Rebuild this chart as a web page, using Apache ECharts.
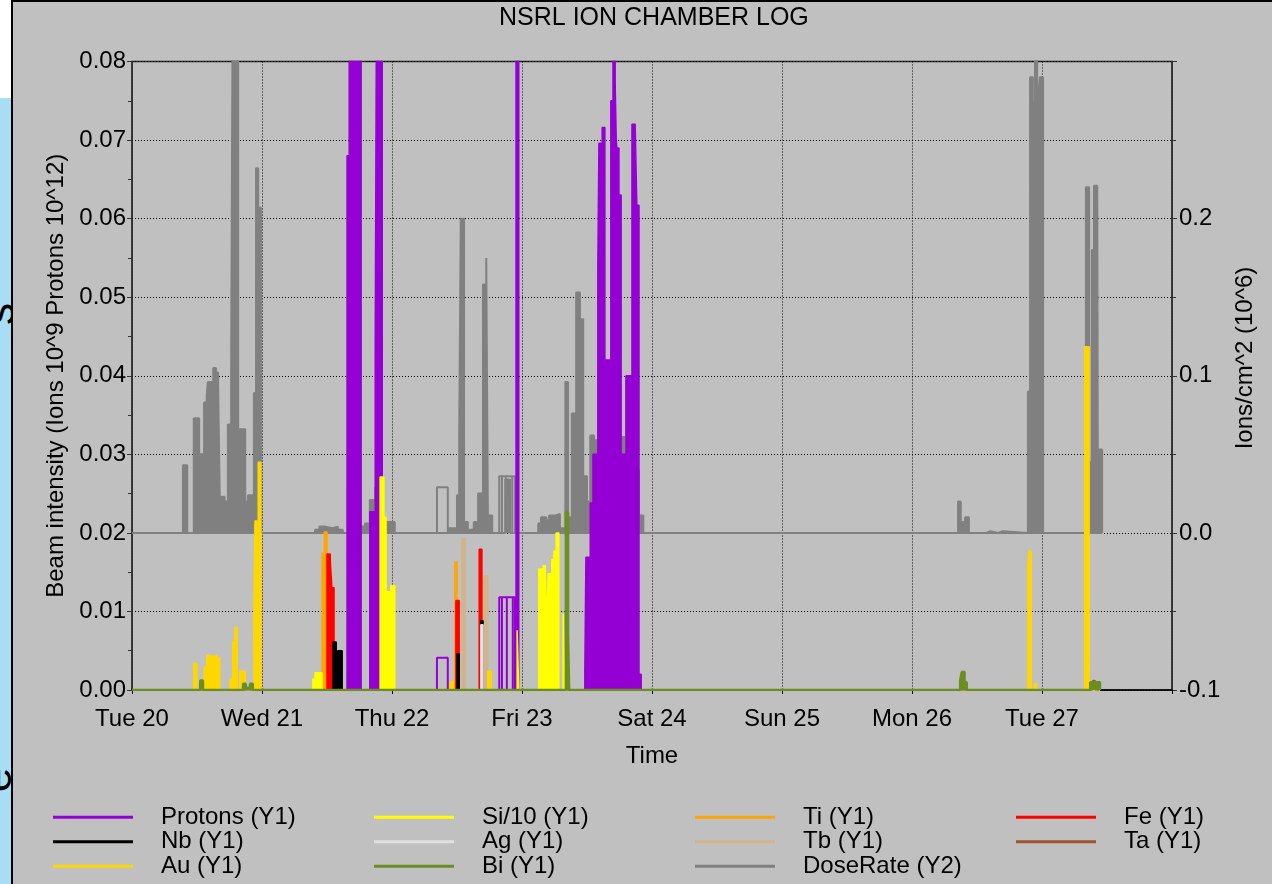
<!DOCTYPE html>
<html><head><meta charset="utf-8">
<script src="https://cdn.jsdelivr.net/npm/echarts@6/dist/echarts.min.js"></script>
<style>
html,body{margin:0;padding:0;background:#c0c0c0;overflow:hidden;}
#chart{position:absolute;left:0;top:0;width:1272px;height:884px;}
.ov{position:absolute;pointer-events:none;}
#strip{position:absolute;left:0;top:98px;width:11px;height:786px;background:#A9DDF3;overflow:hidden;pointer-events:none;}
#strip span{position:absolute;font-family:"Liberation Sans",Arial,sans-serif;color:#000;transform:rotate(-90deg);transform-origin:center center;line-height:1;}
</style></head><body>
<div id="chart"></div>
<div class="ov" style="left:0;top:0;width:11px;height:98px;background:#fff"></div>
<div id="strip"><span style="left:-12px;top:194px;font-size:44px;">s</span><span style="left:-16px;top:660px;font-size:44px;">e</span></div>
<div class="ov" style="left:11px;top:0;width:2px;height:884px;background:#000"></div>
<div class="ov" style="left:11px;top:0;width:1261px;height:2px;background:#000"></div>
<script>
// x values are hours since Tue 20 00:00
const dayLabels = ['Tue 20','Wed 21','Thu 22','Fri 23','Sat 24','Sun 25','Mon 26','Tue 27'];

// DoseRate (Y2) – filled parts and outline-only parts
const doseFill = [[0,0],
 [9.4,0.043],[10.2,0],
 [11.4,0.073],[12.4,0.05],[13.3,0.083],[13.8,0.088],[14.0,0.096],[15.0,0.105],[15.5,0.102],[15.9,0.095],[16.2,0.023],[17.1,0.02],[17.7,0.069],[18.3,0.105],[18.6,0.35],[19.6,0.03],[19.8,0.066],[20.9,0.02],[21.4,0.024],[22.5,0.089],[22.9,0.232],[23.3,0.207],[23.8,0],
 [33.8,0.002],[34.6,0.004],[35.5,0.003],[37.0,0.004],[38.0,0.002],[38.9,0],
 [40.6,0.03],[41.0,0.004],[42.3,0.004],[43.0,0.006],[43.9,0.021],[44.9,0.029],[45.3,0.005],[46.5,0.007],[48.5,0],
 [58.5,0.003],[60.0,0.024],[60.4,0.061],[60.7,0.2],[61.3,0.007],[62.0,0.002],[63.1,0.007],[63.9,0.025],[64.8,0.158],[65.4,0.175],[65.7,0.011],[66.5,0],
 [68.9,0.034],[69.8,0],
 [75.0,0.006],[75.5,0.01],[76.5,0.008],[77.0,0.011],[78.0,0.012],[79.0,0.003],[80.0,0.096],[80.5,0.01],[81.2,0.076],[82.0,0.153],[82.7,0.136],[83.3,0.036],[84.0,0.02],[84.6,0.062],[85.3,0.059],[86.0,0.03],[87.3,0.046],[88.4,0.03],[90.3,0.061],[91.2,0.097],[92.3,0.04],[93.6,0.011],[94.4,0],
 [152.5,0.020],[153.0,0.007],[153.8,0.010],[154.5,0],[157.7,0.001],[158.4,0],[159.9,0.001],[160.8,0],
 [165.4,0.09],[165.8,0.29],[166.3,0.274],[166.7,0.35],[167.1,0.244],[167.3,0.277],[167.6,0.29],[168.2,0],
 [176.1,0.22],[176.7,0.045],[177.2,0.18],[177.6,0.221],[178.2,0.218],[178.3,0.053],[179.1,0]];
const doseOutline = [[0,0],[56.3,0.029],[58.3,0],[67.8,0.036],[68.3,0],[68.3,0.036],[69.0,0],[69.0,0.036],[70.2,0],[70.2,0.036],[70.7,0],[179.1,0]];

// Protons (Y1)
const protonsFill = [[0,0],[39.7,0.068],[40.1,0.1],[40.6,0],[40.8,0.1],[42.3,0],[43.9,0.0227],[44.9,0.0434],[45.2,0.1],[46.2,0],
 [70.9,0.1],[71.4,0],
 [83.6,0.0023],[83.8,0.0169],[84.6,0.0238],[85.1,0.030],[86.0,0.0537],[86.2,0.0696],[86.8,0.0716],[87.3,0.042],[88.4,0.075],[88.8,0.1],[89.2,0.0772],[89.4,0.070],[89.5,0.069],[89.9,0.063],[90.3,0.030],[91.2,0.040],[92.3,0.072],[92.9,0.0716],[93.2,0.0617],[93.6,0.002],[94.0,0],[178.7,0]];
const protonsOutline = [[0,0],[56.3,0.0041],[58.3,0],[67.8,0.0118],[68.3,0],[68.3,0.0118],[69.2,0],[69.2,0.0118],[70.3,0],[70.3,0.0118],[70.7,0],[178.7,0]];

const nbData = [[0,0],[37.1,0.0061],[37.7,0.0042],[38.0,0.005],[38.8,0],[60.0,0.0046],[60.4,0],[64.4,0.0088],[64.8,0],[177.2,0.001],[178.7,0]];
const auData = [[0,0],[11.4,0.0034],[12.0,0],[13.3,0.0029],[13.8,0.0044],[14.2,0.0043],[15.0,0.0044],[15.7,0.004],[16.2,0],[18.1,0.0014],[18.6,0.0062],[19.0,0.008],[19.4,0],[19.9,0.0024],[20.9,0],[22.5,0.009],[22.7,0.0215],[23.3,0.029],[23.8,0],
 [58.7,0.001],[59.3,0],[65.7,0.0024],[66.3,0],[165.4,0.016],[165.6,0.0177],[166.0,0],[166.6,0.0008],[167.0,0],[175.9,0.0437],[176.7,0],[178.7,0]];
const siData = [[0,0],[33.4,0.0014],[33.8,0.0022],[35.1,0],[45.8,0.0271],[46.5,0.022],[46.9,0],[47.1,0.0125],[47.8,0.0133],[48.5,0],
 [71.1,0.0076],[71.4,0],[75.1,0.0154],[75.9,0.0158],[76.3,0.0147],[76.6,0.008],[76.8,0.0148],[77.5,0.0166],[77.9,0.0177],[78.3,0.020],[78.8,0],[79.6,0.0097],[79.9,0],[178.7,0]];
const agData = [[0,0],[64.4,0.0083],[64.8,0],[178.7,0]];
const biData = [[0,0],[12.6,0.0012],[13.1,0],[20.5,0.0008],[21.0,0.0003],[21.8,0.0008],[22.3,0],[80.1,0.0226],[80.5,0.0071],[80.7,0],[152.9,0.0012],[153.2,0.0023],[153.7,0.001],[154.1,0],[176.9,0.001],[178.7,0]];
const tiData = [[0,0],[35.1,0.0174],[35.5,0.0201],[36.0,0],[59.6,0.0163],[60.0,0],[178.7,0]];
const tbData = [[0,0],[60.9,0.0193],[61.5,0],[64.6,0.014],[65.0,0.0145],[65.7,0],[178.7,0]];
const feData = [[0,0],[36.0,0.0173],[36.6,0.0165],[36.9,0.013],[37.3,0],[59.8,0.0114],[60.4,0],[64.1,0.0179],[64.6,0],[178.7,0]];
const taData = [[0,0],[177.4,0.0012],[177.8,0],[178.7,0]];

const FONT = '"Liberation Sans", Arial, sans-serif';
const C = {protons:'#9400D3', nb:'#000000', au:'#FFD700', si:'#FFFF00', ag:'#E0E0E0', bi:'#6B8E23',
           ti:'#FFA500', tb:'#D2B48C', dose:'#808080', fe:'#FF0000', ta:'#A0522D'};

let zc = 2;
function ser(name, data, color, yIdx, fill, w) {
  const s = {type:'line', name, data, step:'end', yAxisIndex:yIdx, symbol:'none', showSymbol:false, z:zc++,
    lineStyle:{color, width:w||1.5}, itemStyle:{color}, emphasis:{disabled:true}, animation:false};
  if (fill) s.areaStyle = {color, opacity:1};
  return s;
}

const chart = echarts.init(document.getElementById('chart'), null, {renderer:'canvas'});
const txt = {color:'#000', fontSize:24, fontFamily:FONT};
const legBase = {orient:'vertical', top:805, padding:0, itemWidth:80, itemHeight:3, itemGap:0, icon:'rect',
  textStyle:{color:'#000', fontSize:24, fontFamily:FONT, lineHeight:24.5, padding:[0,0,0,23]}, selectedMode:false};
chart.setOption({
  backgroundColor:'#C0C0C0',
  animation:false,
  title:{text:'NSRL ION CHAMBER LOG', left:499, top:6, padding:0, textStyle:{color:'#000', fontSize:25, fontWeight:'normal', fontFamily:FONT}},
  grid:{left:132, right:100, top:61.5, bottom:194, show:true, borderColor:'#222', borderWidth:1.5, backgroundColor:'transparent'},
  legend:[
    Object.assign({left:53, data:['Protons (Y1)','Nb (Y1)','Au (Y1)']}, legBase),
    Object.assign({left:374, data:['Si/10 (Y1)','Ag (Y1)','Bi (Y1)']}, legBase),
    Object.assign({left:695, data:['Ti (Y1)','Tb (Y1)','DoseRate (Y2)']}, legBase),
    Object.assign({left:1016, data:['Fe (Y1)','Ta (Y1)']}, legBase)
  ],
  xAxis:{type:'value', min:0, max:192, interval:24,
    axisLine:{show:true, onZero:false, lineStyle:{color:'#000', width:1.5}},
    axisTick:{show:true, length:4, lineStyle:{color:'#000'}},
    axisLabel:Object.assign({margin:17, formatter:v=>dayLabels[Math.round(v/24)]||''}, txt),
    splitLine:{show:true, lineStyle:{color:'#000', type:[1,2], width:1}},
    name:'Time', nameLocation:'middle', nameGap:54, nameTextStyle:txt},
  yAxis:[
    {type:'value', min:0, max:0.08, interval:0.01, position:'left',
     axisLine:{show:true, onZero:false, lineStyle:{color:'#333', width:1.5}},
     axisTick:{show:true, length:5, lineStyle:{color:'#333'}},
     minorTick:{show:true, splitNumber:2, length:4, lineStyle:{color:'#333'}},
     axisLabel:Object.assign({margin:6, formatter:v=>v.toFixed(2)}, txt),
     splitLine:{show:true, lineStyle:{color:'#000', type:[1,2], width:1}},
     name:'Beam intensity (Ions 10^9 Protons 10^12)', nameLocation:'middle', nameRotate:90, nameGap:64, nameTextStyle:txt},
    {type:'value', min:-0.1, max:0.3, interval:0.1, position:'right',
     axisLine:{show:true, onZero:false, lineStyle:{color:'#333', width:1.5}},
     axisTick:{show:true, length:5, lineStyle:{color:'#333'}},
     minorTick:{show:true, splitNumber:2, length:4, lineStyle:{color:'#333'}},
     axisLabel:Object.assign({margin:7, showMaxLabel:false, formatter:v=>v.toFixed(1)}, txt),
     splitLine:{show:false}}
  ],
  graphic:[{type:'text', x:1245, y:358, rotation:Math.PI/2,
    style:{text:'Ions/cm^2 (10^6)', fill:'#000', font:'24px '+FONT, textAlign:'center', textVerticalAlign:'middle'}}],
  series:[
    ser('DoseRate (Y2)', doseFill, C.dose, 1, true, 2),
    ser('DoseRate (Y2)', doseOutline, C.dose, 1, false, 2),
    ser('Protons (Y1)', protonsFill, C.protons, 0, true, 1.5),
    ser('Protons (Y1)', protonsOutline, C.protons, 0, false, 2),
    ser('Ti (Y1)', tiData, C.ti, 0, true),
    ser('Tb (Y1)', tbData, C.tb, 0, true),
    ser('Fe (Y1)', feData, C.fe, 0, true),
    ser('Nb (Y1)', nbData, C.nb, 0, true),
    ser('Ag (Y1)', agData, C.ag, 0, true),
    ser('Au (Y1)', auData, C.au, 0, true),
    ser('Si/10 (Y1)', siData, C.si, 0, true),
    ser('Ta (Y1)', taData, C.ta, 0, true),
    ser('Bi (Y1)', biData, C.bi, 0, true, 2.5)
  ]
});
</script></body></html>
